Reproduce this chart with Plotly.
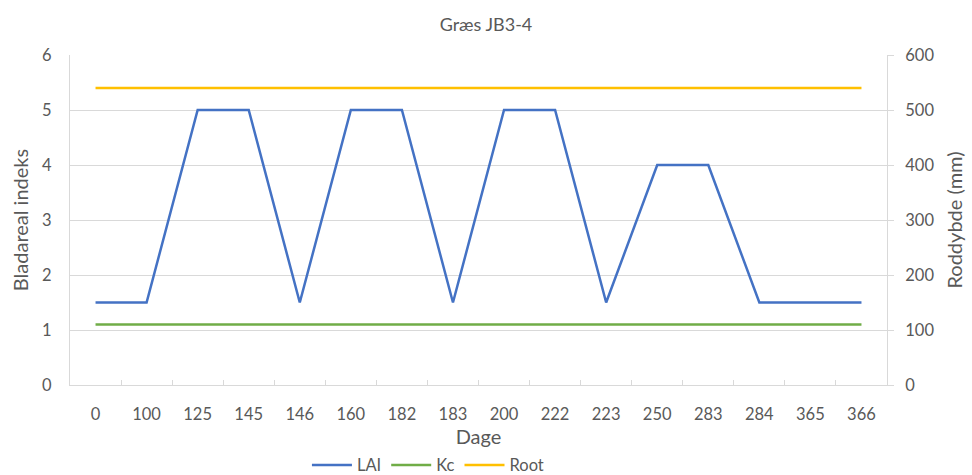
import plotly.graph_objects as go

# Day numbers used as categories along the x axis
days = ["0", "100", "125", "145", "146", "160", "182", "183",
        "200", "222", "223", "250", "283", "284", "365", "366"]
lai = [1.5, 1.5, 5, 5, 1.5, 5, 5, 1.5, 5, 5, 1.5, 4, 4, 1.5, 1.5, 1.5]
kc = [1.1] * len(days)
root_mm = [540] * len(days)

font_family = "Lato, Open Sans, sans-serif"
grid = "#d9d9d9"
txt = "#595959"
fs = 16.5

fig = go.Figure()
fig.add_trace(go.Scatter(x=days, y=lai, name="LAI", mode="lines",
                         line=dict(color="#4472C4", width=2.5)))
fig.add_trace(go.Scatter(x=days, y=kc, name="Kc", mode="lines",
                         line=dict(color="#70AD47", width=2.5)))
fig.add_trace(go.Scatter(x=days, y=root_mm, name="Root", mode="lines",
                         yaxis="y2", line=dict(color="#FFC000", width=2.5)))

fig.update_layout(
    width=972, height=475,
    margin=dict(l=70, r=85, t=55, b=90, autoexpand=False),
    paper_bgcolor="white", plot_bgcolor="white",
    font=dict(family=font_family, size=fs, color=txt),
    title=dict(text="Græs JB3-4", x=0.5, xanchor="center", y=0.947, yanchor="middle",
               font=dict(size=18, color=txt)),
    xaxis=dict(type="category", range=[-0.5, len(days) - 0.5], automargin=False,
               title=dict(text="Dage", standoff=2),
               showgrid=False, showline=True, linecolor=grid, linewidth=1,
               tickson="boundaries", ticks="inside", ticklen=5, tickcolor=grid,
               ticklabelstandoff=14,
               tickfont=dict(size=fs, color=txt)),
    yaxis=dict(title=dict(text="Bladareal indeks", standoff=8), range=[0, 6], dtick=1,
               automargin=False,
               showgrid=True, gridcolor=grid, gridwidth=1,
               showline=True, linecolor=grid, zeroline=False,
               ticklabelstandoff=14,
               tickfont=dict(size=fs, color=txt)),
    yaxis2=dict(title=dict(text="Roddybde (mm)", standoff=14), range=[0, 600], dtick=100,
                automargin=False,
                overlaying="y", side="right", showgrid=False,
                showline=True, linecolor=grid, zeroline=False,
                ticks="outside", ticklen=6, tickcolor=grid,
                ticklabelstandoff=8,
                tickfont=dict(size=fs, color=txt)),
    legend=dict(orientation="h", x=0.29, xanchor="left", y=-0.19, yanchor="top",
                font=dict(size=fs, color=txt), itemwidth=40, tracegroupgap=0),
    showlegend=True,
)

fig.write_html("out.html")
